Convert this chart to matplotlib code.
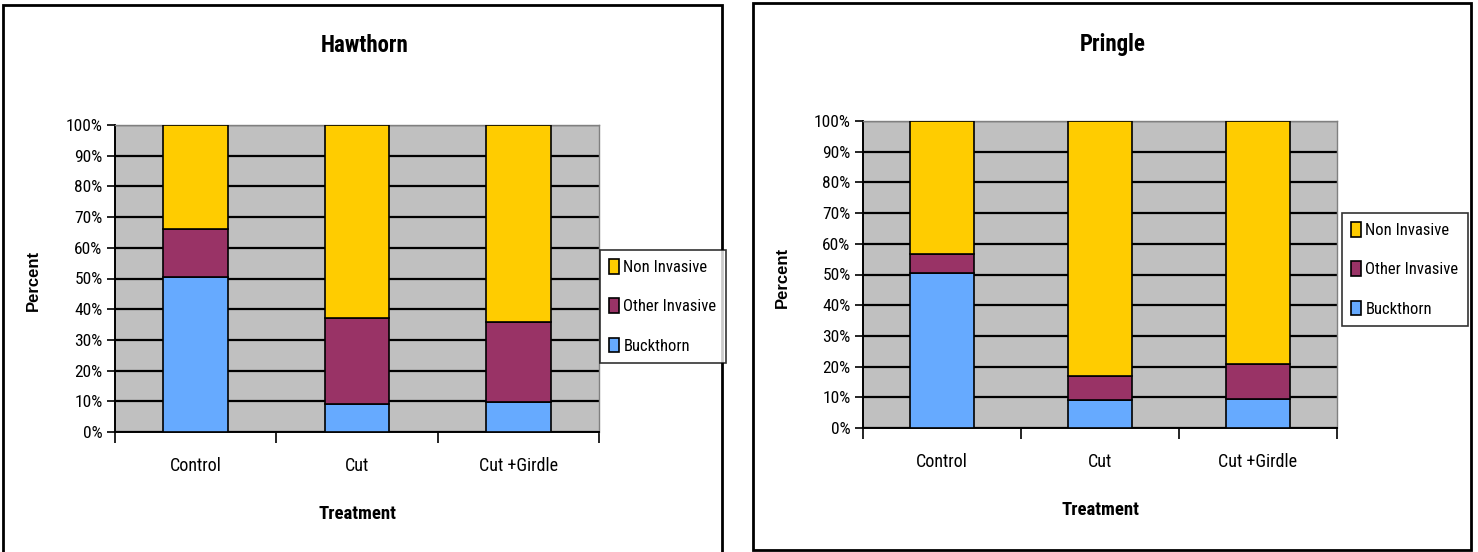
import matplotlib
matplotlib.use("Agg")
import matplotlib.pyplot as plt
from matplotlib.patches import Rectangle
import numpy as np

# Data ---------------------------------------------------------------
treatments = ["Control", "Cut", "Cut +Girdle"]
series_names = ["Buckthorn", "Other Invasive", "Non Invasive"]

hawthorn_buckthorn = [50.6, 9.2, 9.7]
hawthorn_other = [15.4, 27.8, 26.1]
hawthorn_non = [34.0, 63.0, 64.2]

pringle_buckthorn = [50.4, 9.0, 9.6]
pringle_other = [6.3, 8.1, 11.2]
pringle_non = [43.3, 82.9, 79.2]

y_ticks = [0, 10, 20, 30, 40, 50, 60, 70, 80, 90, 100]
y_tick_labels = [f"{v}%" for v in y_ticks]

colors = {"Buckthorn": "#66AAFF", "Other Invasive": "#993366", "Non Invasive": "#FFCC00"}

# Fonts --------------------------------------------------------------
narrow = ["Roboto Condensed", "Archivo Narrow", "Liberation Sans"]
wide = ["Liberation Sans", "DejaVu Sans"]

W, H = 1478, 552
fig = plt.figure(figsize=(W / 100, H / 100), dpi=100)
fig.patch.set_facecolor("white")


def fx(px):
    return px / W


def fy(py):
    return 1 - py / H


def panel(title, buck, other, non, ax_box, frame_box, title_xy, ylabel_xy, xlabel_xy, legend_xy):
    # outer chart frame
    x0, y0, x1, y1 = frame_box
    fig.add_artist(Rectangle((fx(x0), fy(y1)), fx(x1 - x0), (y1 - y0) / H,
                             transform=fig.transFigure, fill=False,
                             edgecolor="black", linewidth=2, zorder=0))

    l, t, r, b = ax_box
    ax = fig.add_axes([fx(l), fy(b), fx(r - l), (b - t) / H])
    ax.set_facecolor("#C0C0C0")

    x = np.arange(len(treatments))
    width = 0.4
    bottoms = np.zeros(len(treatments))
    for name, vals in zip(series_names, [buck, other, non]):
        ax.bar(x, vals, width, bottom=bottoms, color=colors[name],
               edgecolor="black", linewidth=1.2, label=name, zorder=3)
        bottoms = bottoms + np.array(vals)

    ax.set_xlim(-0.5, len(treatments) - 0.5)
    ax.set_ylim(0, 100)
    ax.set_yticks(y_ticks)
    ax.set_yticklabels(y_tick_labels, fontfamily=narrow, fontsize=12.5)
    ax.yaxis.grid(True, color="black", linewidth=1.6, zorder=1)
    ax.set_axisbelow(True)

    ax.set_xticks(np.arange(-0.5, len(treatments), 1.0))
    ax.set_xticklabels([])
    ax.tick_params(axis="x", direction="out", length=8, width=1.2, color="black")
    ax.tick_params(axis="y", direction="out", length=6, width=1.2, color="black", pad=3)

    for s in ("left", "bottom"):
        ax.spines[s].set_color("black")
        ax.spines[s].set_linewidth(1.4)
    for s in ("top", "right"):
        ax.spines[s].set_color("#808080")
        ax.spines[s].set_linewidth(1.0)

    # category labels under each bar
    for xi, lab in zip(x, treatments):
        ax.text(xi, -11, lab, ha="center", va="center", fontfamily=narrow,
                fontsize=13, transform=ax.transData, clip_on=False)

    fig.text(fx(title_xy[0]), fy(title_xy[1]), title, ha="center", va="center",
             fontfamily=narrow, fontweight="bold", fontsize=16.5)
    fig.text(fx(ylabel_xy[0]), fy(ylabel_xy[1]), "Percent", ha="center", va="center",
             rotation=90, fontfamily=wide, fontweight="bold", fontsize=12)
    fig.text(fx(xlabel_xy[0]), fy(xlabel_xy[1]), "Treatment", ha="center", va="center",
             fontfamily=narrow, fontweight="bold", fontsize=13.5)

    handles, labels = ax.get_legend_handles_labels()
    leg = fig.legend(handles[::-1], labels[::-1], loc="upper left",
                     bbox_to_anchor=(fx(legend_xy[0]), fy(legend_xy[1])),
                     frameon=True, fancybox=False, edgecolor="black",
                     prop={"family": narrow, "size": 12},
                     handlelength=0.6, handleheight=0.95, handletextpad=0.25,
                     labelspacing=1.4, borderpad=0.55, borderaxespad=0)
    leg.get_frame().set_linewidth(1.2)
    return ax


panel("Hawthorn", hawthorn_buckthorn, hawthorn_other, hawthorn_non,
      ax_box=(115, 125, 599, 432), frame_box=(3, 5, 722, 560),
      title_xy=(365, 46), ylabel_xy=(33, 280), xlabel_xy=(357, 514),
      legend_xy=(600, 250))

panel("Pringle", pringle_buckthorn, pringle_other, pringle_non,
      ax_box=(863, 121, 1337, 428), frame_box=(753, 3, 1471, 550),
      title_xy=(1113, 44), ylabel_xy=(782, 277), xlabel_xy=(1100, 510),
      legend_xy=(1342, 213))

fig.savefig("out.png", dpi=100, facecolor="white")
